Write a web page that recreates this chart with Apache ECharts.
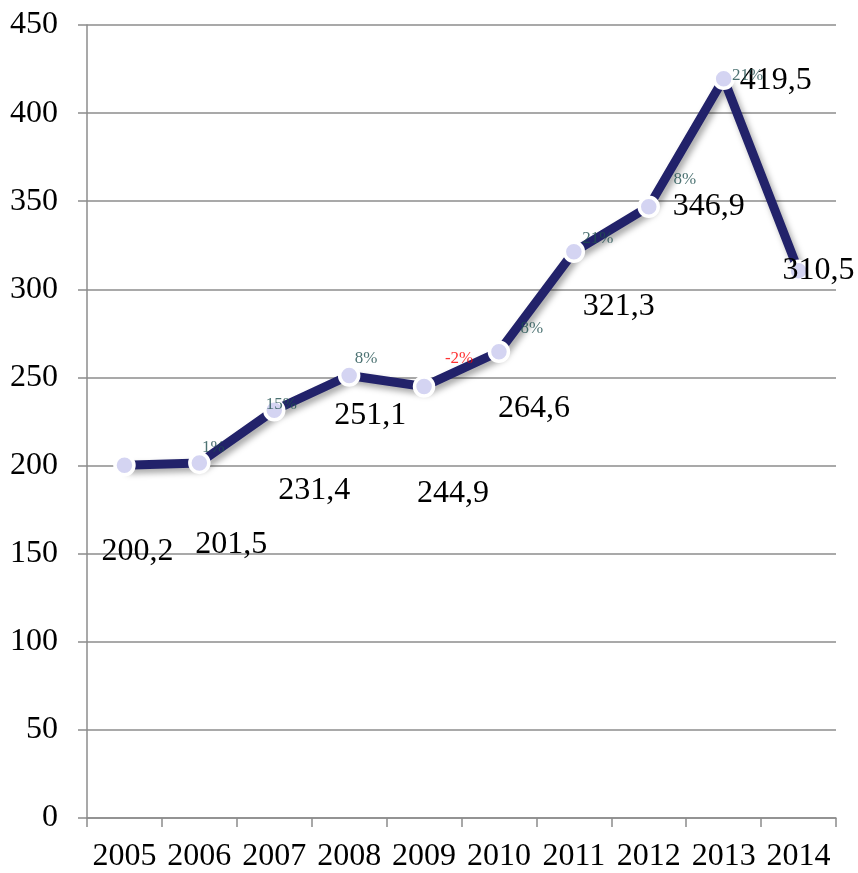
<!DOCTYPE html>
<html>
<head>
<meta charset="utf-8">
<script src="https://cdn.jsdelivr.net/npm/echarts@6/dist/echarts.min.js"></script>
<style>html,body{margin:0;padding:0;background:#fff}#c{width:858px;height:873px}</style>
</head>
<body>
<div id="c"></div>
<script>
var categories = ['2005','2006','2007','2008','2009','2010','2011','2012','2013','2014'];
var values = [200.2, 201.5, 231.4, 251.1, 244.9, 264.6, 321.3, 346.9, 419.5, 310.5];
var growthLabels = ['', '1%', '15%', '8%', '-2%', '8%', '21%', '8%', '21%', ''];
var yTicks = [0, 50, 100, 150, 200, 250, 300, 350, 400, 450];

// layout only: label offsets (px) relative to each point
var valueOffsets = [[13,86],[32,82],[40,80],[21,40],[29,107],[35,57],[45,55],[60,0],[52,2],[20,0]];
var growthOffsets = [[0,0],[14,-15],[7,-6],[17,-17],[35,-28],[33,-23],[24,-13],[36,-27],[24,-3],[0,0]];

function fmtNum(v){ return v.toFixed(1).replace('.', ','); }

var growthData = values.map(function(v, i){
  var neg = growthLabels[i].charAt(0) === '-';
  return { value: v, label: { show: growthLabels[i] !== '', color: neg ? '#ff0000' : '#1f4f4f' } };
});

var chart = echarts.init(document.getElementById('c'), null, {renderer: 'canvas'});
chart.setOption({
  animation: false,
  backgroundColor: '#ffffff',
  grid: { left: 87, right: 22, top: 25, bottom: 50 },
  xAxis: {
    type: 'category',
    data: categories,
    boundaryGap: true,
    axisLine: { lineStyle: { color: '#8c8c8c', width: 1.5 } },
    axisTick: { show: true, length: 9, interval: 0, lineStyle: { color: '#8c8c8c', width: 1.5 } },
    axisLabel: { interval: 0, fontFamily: 'Liberation Serif', fontSize: 32, color: '#000', margin: 23 }
  },
  yAxis: {
    type: 'value',
    min: yTicks[0],
    max: yTicks[yTicks.length - 1],
    interval: yTicks[1] - yTicks[0],
    axisLine: { show: true, lineStyle: { color: '#8c8c8c', width: 1.5 } },
    axisTick: { show: true, length: 9, lineStyle: { color: '#8c8c8c', width: 1.5 } },
    splitLine: { show: true, lineStyle: { color: '#8c8c8c', width: 1.5 } },
    axisLabel: { fontFamily: 'Liberation Serif', fontSize: 32, color: '#000', margin: 29 }
  },
  series: [
    {
      type: 'line',
      data: values,
      symbol: 'circle',
      symbolSize: 19,
      z: 3,
      lineStyle: { color: '#22226a', width: 9, shadowColor: 'rgba(0,0,0,0.35)', shadowBlur: 6, shadowOffsetX: 3, shadowOffsetY: 4 },
      itemStyle: { color: '#d4d4f2', borderColor: '#ffffff', borderWidth: 3.5 },
      label: {
        show: true, position: 'inside', fontFamily: 'Liberation Serif', fontSize: 32, color: '#000',
        formatter: function(p){ return fmtNum(p.value); }
      },
      labelLayout: function(p){
        var o = valueOffsets[p.dataIndex];
        return { dx: o[0], dy: o[1], hideOverlap: false };
      }
    },
    {
      type: 'scatter',
      data: growthData,
      symbolSize: 2,
      itemStyle: { color: 'rgba(0,0,0,0)' },
      silent: true,
      z: 4,
      label: {
        show: true, position: 'inside', fontFamily: 'Liberation Serif', fontSize: 17,
        formatter: function(p){ return growthLabels[p.dataIndex]; }
      },
      labelLayout: function(p){
        var o = growthOffsets[p.dataIndex];
        return { dx: o[0], dy: o[1], hideOverlap: false };
      }
    }
  ]
});
</script>
</body>
</html>
